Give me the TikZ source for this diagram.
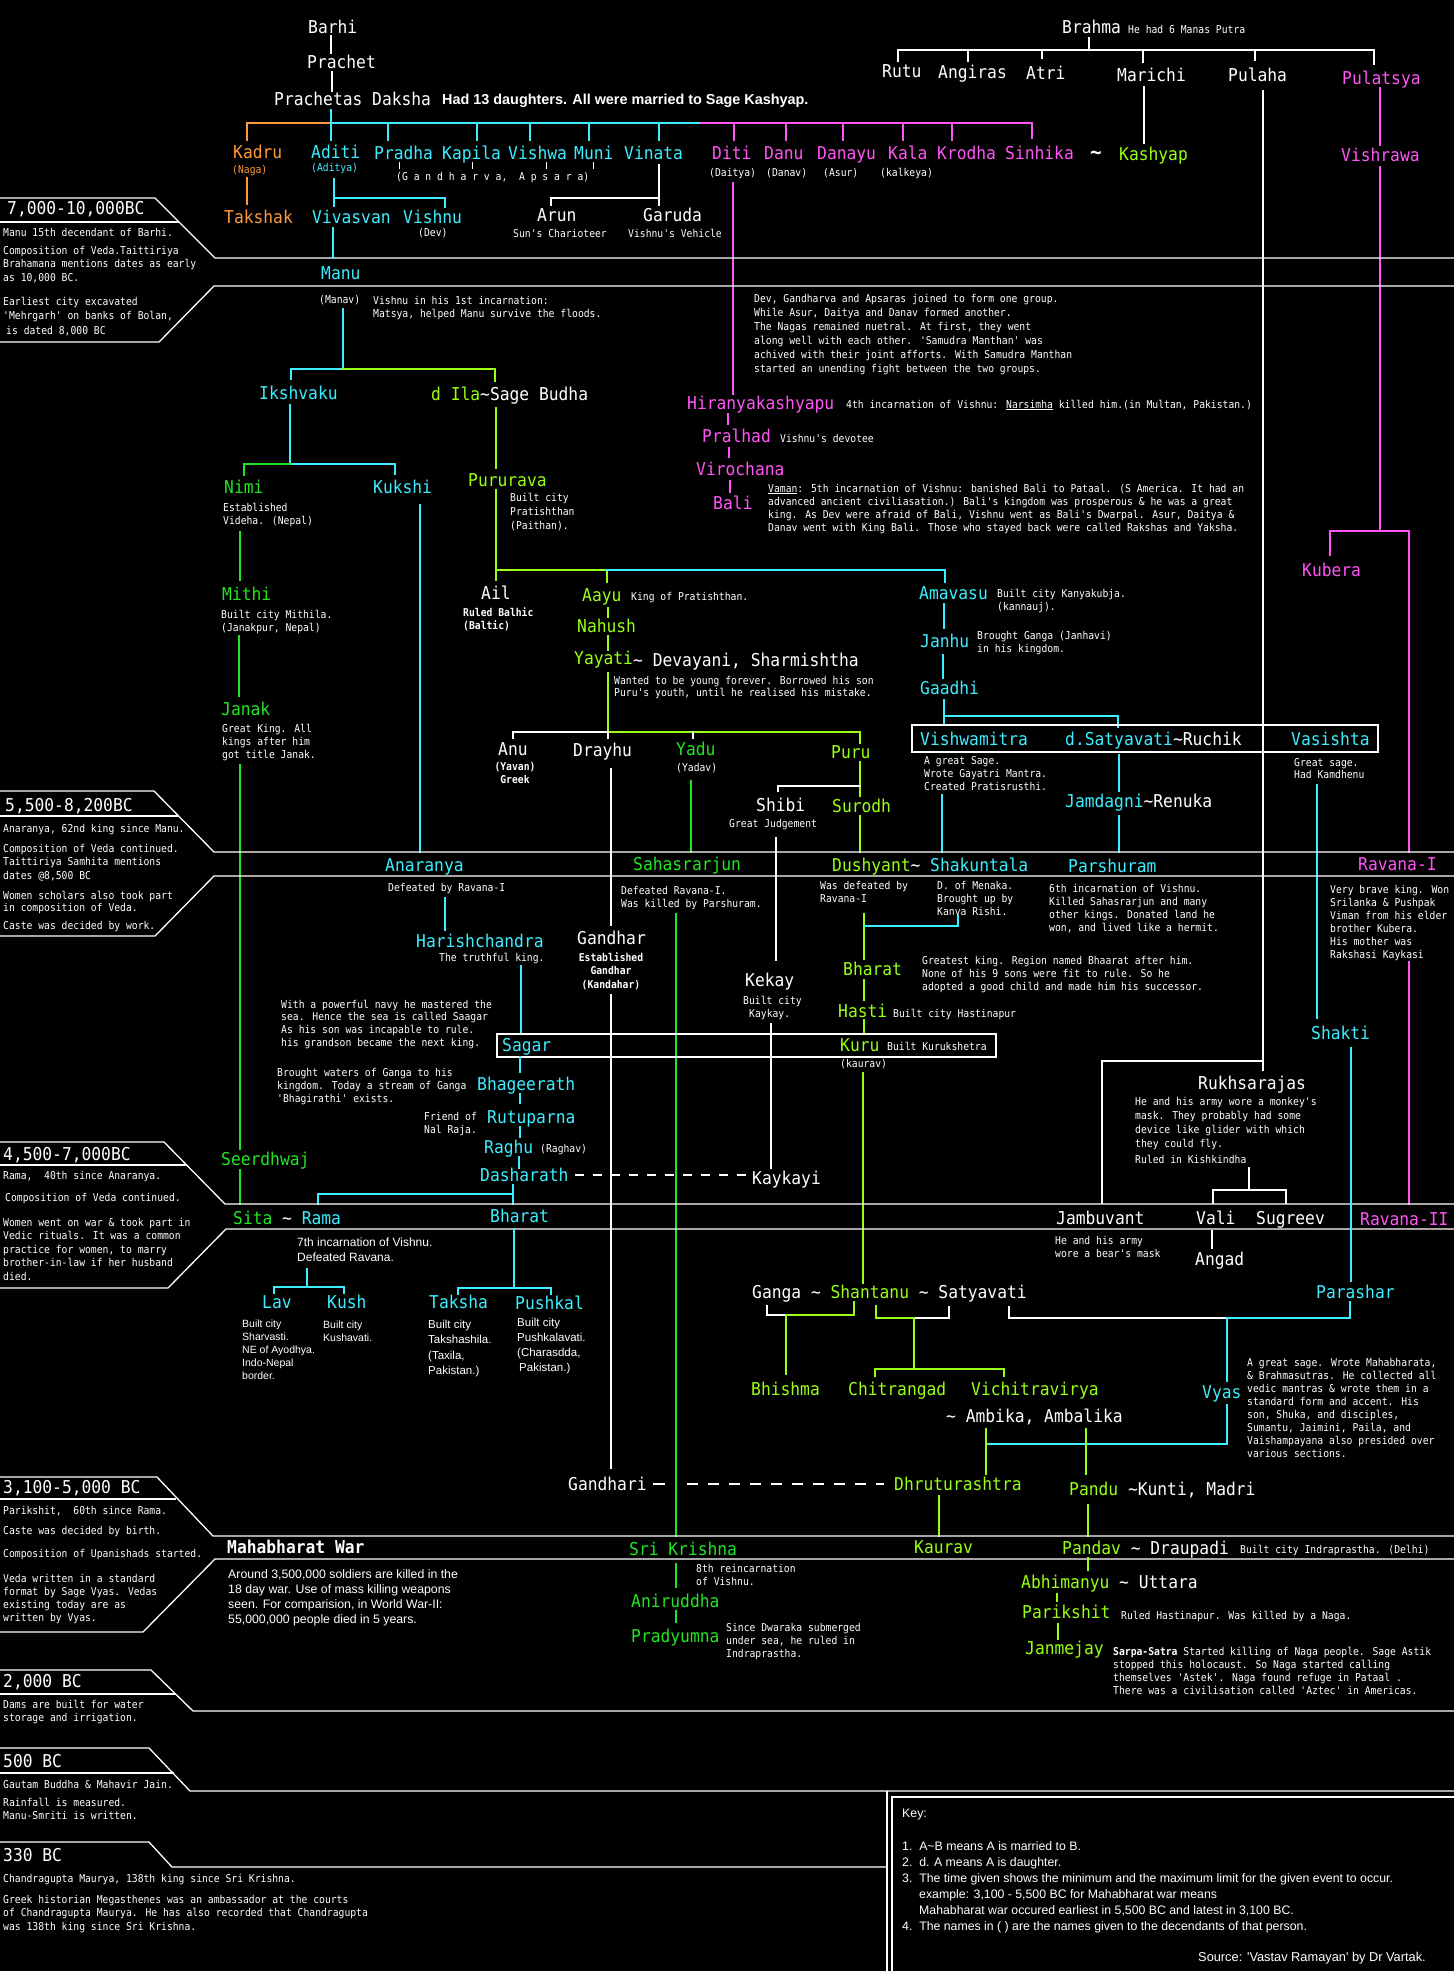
\documentclass[tikz,border=0pt]{standalone}
\usepackage{fontspec}
\newfontfamily\monof{DejaVu Sans Mono}[FakeStretch=0.92]
\newfontfamily\monos{DejaVu Sans Mono}[FakeStretch=0.9]
\newfontfamily\sansf{Liberation Sans}
\definecolor{cy}{HTML}{3CEEFF}
\definecolor{mg}{HTML}{FF55F5}
\definecolor{og}{HTML}{FF9A3A}
\definecolor{lm}{HTML}{99FF14}
\definecolor{gr}{HTML}{22E622}
\newcommand\ML[3]{{\fontsize{#1}{#2}\selectfont\begin{tabular}[t]{@{}l@{}}#3\end{tabular}}}
\newcommand\MC[3]{{\fontsize{#1}{#2}\selectfont\begin{tabular}[t]{@{}c@{}}#3\end{tabular}}}
\newcommand\sml[2]{\ML{10.8}{#1}{#2}}
\newcommand\tld{\textasciitilde}
\tikzset{
 nm/.style={font=\monof\fontsize{17.7}{19}\selectfont, text height=13pt, text depth=0pt, anchor=west, inner sep=0pt, text=white},
 sm/.style={font=\monos\fontsize{10.8}{13}\selectfont, anchor=base west, inner sep=0pt, text=white},
 smb/.style={sm, font=\monos\bfseries\fontsize{10.8}{13}\selectfont},
 ss/.style={font=\sansf\fontsize{12.3}{15}\selectfont, anchor=base west, inner sep=0pt, text=white},
 tr/.style={line width=2.3pt, line cap=rect},
 bd/.style={line width=1.3pt, draw=white},
 tk/.style={line width=1pt, draw=white},
}
\newcommand\nmnode[5]{\node[nm,text=#4] (#1) at (#2,#3) {#5};}
\newcommand\smnode[4]{\node[sm] (#1) at (#2,#3) {#4};}
\begin{document}
\begin{tikzpicture}[x=1pt,y=-1pt]
\fill[black] (0,0) rectangle (1454,1971);
\useasboundingbox (0,0) rectangle (1454,1971);

% ---------- top: Daksha ----------
\nmnode{barhi}{308}{27}{white}{Barhi}
\nmnode{prachet}{307}{62}{white}{Prachet}
\nmnode{prachetas}{274}{99}{white}{Prachetas Daksha}
\node[ss,font=\sansf\bfseries\fontsize{14.4}{16}\selectfont] (had13) at (442,104) {Had 13 daughters. All were married to Sage Kashyap.};
\draw[tr,white] (331,36)--(331,53);
\draw[tr,white] (332,72)--(332,91);
\draw[tr,cy] (331,110)--(331,140);
\draw[tr,og] (331,123)--(247,123)--(247,140);
\draw[tr,cy] (331,123)--(701,123);
\draw[tr,mg] (701,123)--(1032,123)--(1032,138);
\foreach \x in {388,477,530,589,659} \draw[tr,cy] (\x,123)--(\x,140);
\foreach \x in {734,786,843,903,952} \draw[tr,mg] (\x,123)--(\x,140);

\nmnode{kadru}{233}{152}{og}{Kadru}
\nmnode{aditi}{311}{152}{cy}{Aditi}
\nmnode{pradha}{374}{153}{cy}{Pradha}
\nmnode{kapila}{442}{153}{cy}{Kapila}
\nmnode{vishwa}{508}{153}{cy}{Vishwa}
\nmnode{muni}{574}{153}{cy}{Muni}
\nmnode{vinata}{624}{153}{cy}{Vinata}
\nmnode{diti}{712}{153}{mg}{Diti}
\nmnode{danu}{764}{153}{mg}{Danu}
\nmnode{danayu}{817}{153}{mg}{Danayu}
\nmnode{kala}{888}{153}{mg}{Kala}
\nmnode{krodha}{937}{153}{mg}{Krodha}
\nmnode{sinhika}{1005}{153}{mg}{Sinhika}
\node[nm,font=\monof\bfseries\fontsize{21}{21}\selectfont] (tilde1) at (1090,153) {\tld};
\nmnode{kashyap}{1119}{154}{lm}{Kashyap}

\node[sm,text=og] (naga) at (232,173) {(Naga)};
\node[sm,text=cy] (aditya) at (311,171) {(Aditya)};
\smnode{gandh}{396}{180}{(G a n d h a r v a,\ \ A p s a r a)}
\foreach \x in {399,472,546,593} \draw[tk] (\x,162)--(\x,169);
\smnode{daitya}{709}{176}{(Daitya)}
\smnode{danav}{766}{176}{(Danav)}
\smnode{asur}{823}{176}{(Asur)}
\smnode{kalkeya}{880}{176}{(kalkeya)}

% ---------- Brahma ----------
\nmnode{brahma}{1062}{27}{white}{Brahma}
\smnode{brahmanote}{1128}{33}{He had 6 Manas Putra}
\draw[tr,white] (1089,38)--(1089,50);
\draw[tr,white] (898,61)--(898,50)--(1374,50)--(1374,64);
\foreach \x/\y in {968/61,1042/58,1143/62,1255/60} \draw[tr,white] (\x,50)--(\x,\y);
\nmnode{rutu}{882}{71}{white}{Rutu}
\nmnode{angiras}{938}{72}{white}{Angiras}
\nmnode{atri}{1026}{73}{white}{Atri}
\nmnode{marichi}{1117}{75}{white}{Marichi}
\nmnode{pulaha}{1228}{75}{white}{Pulaha}
\nmnode{pulatsya}{1342}{78}{mg}{Pulatsya}
\draw[tr,white] (1144,87)--(1144,143);
\draw[white,line width=1.8pt] (1263,90)--(1263,1071);
\draw[white,line width=1.8pt] (1263,1061)--(1102,1061)--(1102,1204);
\draw[tr,mg] (1380,88)--(1380,145);
\nmnode{vishrawa}{1341}{155}{mg}{Vishrawa}
\draw[tr,mg] (1380,167)--(1380,531);
\draw[tr,mg] (1330,555)--(1330,531)--(1409,531)--(1409,852);
\nmnode{kubera}{1302}{570}{mg}{Kubera}
\draw[tr,mg] (1409,962)--(1409,1204);

% ---------- second generation ----------
\draw[tr,og] (247,178)--(247,204);
\nmnode{takshak}{224}{217}{og}{Takshak}
\draw[tr,cy] (334,179)--(334,206);
\draw[tr,cy] (334,198)--(445,198)--(445,207);
\nmnode{vivasvan}{312}{217}{cy}{Vivasvan}
\nmnode{vishnu}{403}{217}{cy}{Vishnu}
\smnode{dev}{418}{236}{(Dev)}
\draw[tr,white] (659,165)--(659,205);
\draw[tr,white] (659,198)--(551,198)--(551,205);
\nmnode{arun}{537}{215}{white}{Arun}
\smnode{arunnote}{513}{237}{Sun's Charioteer}
\nmnode{garuda}{643}{215}{white}{Garuda}
\smnode{garudanote}{628}{237}{Vishnu's Vehicle}
\draw[tr,mg] (733,183)--(733,394);

% ---------- band 1 ----------
\draw[bd] (0,198)--(155,198)--(215,258)--(1454,258);
\draw[bd] (0,222)--(179,222);
\draw[bd] (1454,286)--(214,286)--(159,342)--(0,342);
\nmnode{bandA}{7}{208}{white}{7,000-10,000BC}
\smnode{bandAa}{3}{236}{Manu 15th decendant of Barhi.}
\smnode{bandAb}{3}{254}{\sml{13.5}{Composition of Veda.Taittiriya\\Brahamana mentions dates as early\\as 10,000 BC.}}
\smnode{bandAc}{3}{305}{\sml{14.5}{Earliest city excavated\\'Mehrgarh' on banks of Bolan,\\\hspace*{3pt}is dated 8,000 BC}}

\nmnode{manu}{321}{273}{cy}{Manu}
\draw[tr,cy] (333,228)--(333,258);
\smnode{manav}{319}{303}{(Manav)}
\smnode{matsya}{373}{304}{\sml{13.5}{Vishnu in his 1st incarnation:\\Matsya, helped Manu survive the floods.}}
\smnode{devnote}{754}{302}{\sml{14}{Dev, Gandharva and Apsaras joined to form one group.\\While Asur, Daitya and Danav formed another.\\The Nagas remained nuetral. At first, they went\\along well with each other. 'Samudra Manthan' was\\achived with their joint afforts. With Samudra Manthan\\started an unending fight between the two groups.}}
\draw[tr,cy] (343,309)--(343,369)--(291,369)--(291,379);
\draw[tr,lm] (343,369)--(495,369)--(495,381);
\nmnode{ikshvaku}{259}{393}{cy}{Ikshvaku}
\nmnode{ila}{431}{394}{lm}{d Ila\textcolor{white}{\tld Sage Budha}}
\draw[tr,lm] (496,408)--(496,468);
\nmnode{pururava}{468}{480}{lm}{Pururava}
\draw[tr,cy] (290,405)--(290,464)--(395,464)--(395,474);
\draw[tr,gr] (290,464)--(244,464)--(244,475);
\nmnode{nimi}{224}{487}{gr}{Nimi}
\nmnode{kukshi}{373}{487}{cy}{Kukshi}
\smnode{niminote}{223}{511}{\sml{13}{Established\\Videha. (Nepal)}}
\draw[tr,gr] (240,532)--(240,580);
\nmnode{mithi}{222}{594}{gr}{Mithi}
\smnode{mithinote}{221}{618}{\sml{13.5}{Built city Mithila.\\(Janakpur, Nepal)}}
\draw[tr,gr] (239,636)--(239,696);
\nmnode{janak}{221}{709}{gr}{Janak}
\smnode{janaknote}{222}{732}{\sml{13}{Great King. All\\kings after him\\got title Janak.}}
\draw[tr,gr] (240,765)--(240,1149);
\nmnode{seerdhwaj}{221}{1159}{gr}{Seerdhwaj}
\draw[tr,gr] (240,1170)--(240,1204);
\draw[tr,cy] (420,505)--(420,852);

% ---------- Hiranyakashyapu ----------
\nmnode{hiranya}{687}{403}{mg}{Hiranyakashyapu}
\smnode{hiranyanote}{846}{408}{4th incarnation of Vishnu: \underline{Narsimha} killed him.(in Multan, Pakistan.)}
\draw[tr,mg] (728,414)--(728,424);
\nmnode{pralhad}{702}{436}{mg}{Pralhad}
\smnode{pralhadnote}{780}{442}{Vishnu's devotee}
\draw[tr,mg] (729,448)--(729,457);
\nmnode{virochana}{696}{469}{mg}{Virochana}
\draw[tr,mg] (730,481)--(730,492);
\nmnode{bali}{713}{503}{mg}{Bali}
\smnode{vamannote}{768}{492}{\sml{13}{\underline{Vaman}: 5th incarnation of Vishnu: banished Bali to Pataal. (S America. It had an\\advanced ancient civiliasation.) Bali's kingdom was prosperous \& he was a great\\king. As Dev were afraid of Bali, Vishnu went as Bali's Dwarpal. Asur, Daitya \&\\Danav went with King Bali. Those who stayed back were called Rakshas and Yaksha.}}

% ---------- Pururava line ----------
\smnode{pururavanote}{510}{501}{\sml{14}{Built city\\Pratishthan\\(Paithan).}}
\draw[tr,lm] (496,490)--(496,580);
\draw[tr,lm] (496,570)--(607,570)--(607,582);
\draw[tr,cy] (607,570)--(945,570)--(945,582);
\nmnode{ail}{481}{593}{white}{Ail}
\node[smb] (ailnote) at (463,616) {\sml{13}{Ruled Balhic\\(Baltic)}};
\nmnode{aayu}{582}{595}{lm}{Aayu}
\smnode{aayunote}{631}{600}{King of Pratishthan.}
\draw[tr,lm] (608,608)--(608,617);
\nmnode{nahush}{577}{626}{lm}{Nahush}
\draw[tr,lm] (608,636)--(608,650);
\nmnode{yayati}{574}{658}{lm}{Yayati}
\nmnode{devayani}{633}{660}{white}{\tld{} Devayani, Sharmishtha}
\smnode{yayatinote}{614}{684}{\sml{12}{Wanted to be young forever. Borrowed his son\\Puru's youth, until he realised his mistake.}}
\draw[tr,lm] (608,673)--(608,732)--(860,732)--(860,743);
\draw[tr,white] (608,732)--(513,732)--(513,738);
\draw[tr,white] (608,732)--(608,738);
\draw[tr,white] (693,732)--(693,738);
\nmnode{anu}{498}{749}{white}{Anu}
\node[smb,anchor=base] (anunote) at (515,770) {\MC{10.8}{13}{(Yavan)\\Greek}};
\nmnode{drayhu}{573}{750}{white}{Drayhu}
\nmnode{yadu}{676}{749}{gr}{Yadu}
\smnode{yadav}{676}{771}{(Yadav)}
\nmnode{puru}{831}{752}{lm}{Puru}
\draw[tr,white] (611,769)--(611,925);
\draw[tr,gr] (691,781)--(691,852);
\draw[tr,lm] (860,762)--(860,796);
\draw[tr,white] (860,786)--(778,786)--(778,791);
\nmnode{shibi}{756}{805}{white}{Shibi}
\smnode{shibinote}{729}{827}{Great Judgement}
\nmnode{surodh}{832}{806}{lm}{Surodh}
\draw[tr,lm] (860,816)--(860,852);
\draw[tr,white] (776,838)--(776,960);

% ---------- Amavasu line ----------
\nmnode{amavasu}{919}{593}{cy}{Amavasu}
\smnode{amavasunote}{997}{597}{\sml{13}{Built city Kanyakubja.\\(kannauj).}}
\draw[tr,cy] (944,604)--(944,628);
\nmnode{janhu}{920}{641}{cy}{Janhu}
\smnode{janhunote}{977}{639}{\sml{13}{Brought Ganga (Janhavi)\\in his kingdom.}}
\draw[tr,cy] (943,655)--(943,678);
\nmnode{gaadhi}{920}{688}{cy}{Gaadhi}
\draw[tr,cy] (944,700)--(944,725);
\draw[tr,cy] (944,716)--(1118,716)--(1118,727);
\draw[bd] (912,725) rectangle (1378,752);
\nmnode{vishwamitra}{920}{739}{cy}{Vishwamitra}
\nmnode{satyavatiA}{1065}{739}{cy}{d.Satyavati\textcolor{white}{\tld Ruchik}}
\nmnode{vasishta}{1291}{739}{cy}{Vasishta}
\smnode{vishwamitranote}{924}{764}{\sml{13}{A great Sage.\\Wrote Gayatri Mantra.\\Created Pratisrusthi.}}
\draw[tr,cy] (942,795)--(942,852);
\draw[tr,cy] (1119,755)--(1119,791);
\nmnode{jamdagni}{1065}{801}{cy}{Jamdagni\textcolor{white}{\tld Renuka}}
\draw[tr,cy] (1119,816)--(1119,852);
\smnode{vasishtanote}{1294}{766}{\sml{12}{Great sage.\\Had Kamdhenu}}
\draw[tr,cy] (1317,785)--(1317,1018);

% ---------- band 2 ----------
\draw[bd] (0,791)--(154,791)--(214,852)--(1454,852);
\draw[bd] (0,816)--(178,816);
\draw[bd] (1454,876)--(214,876)--(155,936)--(0,936);
\nmnode{bandB}{5}{805}{white}{5,500-8,200BC}
\smnode{bandBa}{3}{832}{Anaranya, 62nd king since Manu.}
\smnode{bandBb}{3}{852}{\sml{13.5}{Composition of Veda continued.\\Taittiriya Samhita mentions\\dates @8,500 BC}}
\smnode{bandBc}{3}{899}{\sml{12}{Women scholars also took part\\in composition of Veda.}}
\smnode{bandBd}{3}{929}{Caste was decided by work.}

\nmnode{anaranya}{385}{865}{cy}{Anaranya}
\smnode{anaranyanote}{388}{891}{Defeated by Ravana-I}
\draw[tr,cy] (445,898)--(445,930);
\nmnode{harish}{416}{941}{cy}{Harishchandra}
\smnode{harishnote}{439}{961}{The truthful king.}
\draw[tr,cy] (521,966)--(521,1034);
\nmnode{sahasrarjun}{633}{864}{gr}{Sahasrarjun}
\smnode{sahasranote}{621}{894}{\sml{13}{Defeated Ravana-I.\\Was killed by Parshuram.}}
\draw[tr,gr] (676,914)--(676,1536);
\nmnode{dushyant}{832}{865}{lm}{Dushyant\textcolor{white}{\tld} \textcolor{cy}{Shakuntala}}
\smnode{dushyantnote}{820}{889}{\sml{13}{Was defeated by\\Ravana-I}}
\smnode{shakuntalanote}{937}{889}{\sml{13}{D. of Menaka.\\Brought up by\\Kanva Rishi.}}
\draw[tr,lm] (864,914)--(864,959);
\draw[tr,cy] (864,926)--(958,926)--(958,916);
\nmnode{parshuram}{1068}{866}{cy}{Parshuram}
\smnode{parshuramnote}{1049}{892}{\sml{13}{6th incarnation of Vishnu.\\Killed Sahasrarjun and many\\other kings. Donated land he\\won, and lived like a hermit.}}
\nmnode{ravanaA}{1358}{864}{mg}{Ravana-I}
\smnode{ravanaAnote}{1330}{893}{\sml{13}{Very brave king. Won\\Srilanka \& Pushpak\\Viman from his elder\\brother Kubera.\\His mother was\\Rakshasi Kaykasi}}

\nmnode{bharatA}{843}{969}{lm}{Bharat}
\smnode{bharatAnote}{922}{964}{\sml{13}{Greatest king. Region named Bhaarat after him.\\None of his 9 sons were fit to rule. So he\\adopted a good child and made him his successor.}}
\draw[tr,lm] (864,980)--(864,1000);
\nmnode{hasti}{838}{1011}{lm}{Hasti}
\smnode{hastinote}{893}{1017}{Built city Hastinapur}
\draw[tr,lm] (864,1020)--(864,1034);
\nmnode{gandhar}{577}{938}{white}{Gandhar}
\node[smb,anchor=base] (gandharnote) at (611,961) {\MC{10.8}{13.5}{Established\\Gandhar\\(Kandahar)}};
\draw[tr,white] (611,995)--(611,1468);
\nmnode{kekay}{745}{980}{white}{Kekay}
\smnode{kekaynote}{743}{1004}{\sml{13}{Built city\\\hspace*{6pt}Kaykay.}}
\draw[tr,white] (771,1024)--(771,1168);
\nmnode{kaykayi}{752}{1178}{white}{Kaykayi}

\draw[bd] (497,1034) rectangle (996,1057);
\nmnode{sagar}{502}{1045}{cy}{Sagar}
\nmnode{kuru}{840}{1045}{lm}{Kuru}
\smnode{kurunote}{887}{1050}{Built Kurukshetra}
\smnode{kauravA}{840}{1067}{(kaurav)}
\draw[tr,lm] (863,1073)--(863,1283);
\smnode{sagarnote}{281}{1008}{\sml{12.7}{With a powerful navy he mastered the\\sea. Hence the sea is called Saagar\\As his son was incapable to rule.\\his grandson became the next king.}}
\draw[tr,cy] (520,1057)--(520,1072);
\nmnode{bhageerath}{477}{1084}{cy}{Bhageerath}
\smnode{bhagnote}{277}{1076}{\sml{13}{Brought waters of Ganga to his\\kingdom. Today a stream of Ganga\\'Bhagirathi' exists.}}
\draw[tr,cy] (520,1094)--(520,1103);
\nmnode{rutuparna}{487}{1117}{cy}{Rutuparna}
\smnode{rutunote}{424}{1120}{\sml{13}{Friend of\\Nal Raja.}}
\draw[tr,cy] (520,1127)--(520,1137);
\nmnode{raghu}{484}{1147}{cy}{Raghu}
\smnode{raghav}{540}{1152}{(Raghav)}
\draw[tr,cy] (519,1157)--(519,1168);
\nmnode{dasharath}{480}{1175}{cy}{Dasharath}
\draw[white,line width=1.3pt,dash pattern=on 9pt off 9pt] ([xshift=6pt]dasharath.east) -- ([xshift=-4pt]kaykayi.west |- dasharath.east);
\draw[tr,cy] (513,1185)--(513,1204);
\draw[tr,cy] (513,1194)--(318,1194)--(318,1204);

% ---------- band 3 ----------
\draw[bd] (0,1142)--(164,1142)--(225,1204)--(1454,1204);
\draw[bd] (0,1165)--(186,1165);
\draw[bd] (1454,1229)--(226,1229)--(168,1288)--(0,1288);
\nmnode{bandC}{3}{1154}{white}{4,500-7,000BC}
\smnode{bandCa}{3}{1179}{Rama,\ \ 40th since Anaranya.}
\smnode{bandCb}{5}{1201}{Composition of Veda continued.}
\smnode{bandCc}{3}{1226}{\sml{13.5}{Women went on war \& took part in\\Vedic rituals. It was a common\\practice for women, to marry\\brother-in-law if her husband\\died.}}
\nmnode{sitarama}{233}{1218}{gr}{Sita \textcolor{white}{\tld} \textcolor{cy}{Rama}}
\nmnode{bharatB}{490}{1216}{cy}{Bharat}
\node[ss] (ramanote) at (297,1246) {\ML{12}{15}{7th incarnation of Vishnu.\\Defeated Ravana.}};
\draw[tr,cy] (307,1269)--(307,1287);
\draw[tr,cy] (274,1293)--(274,1287)--(344,1287)--(344,1293);
\nmnode{lav}{262}{1302}{cy}{Lav}
\nmnode{kush}{327}{1302}{cy}{Kush}
\node[ss] (lavnote) at (242,1327) {\ML{10.5}{13}{Built city\\Sharvasti.\\NE of Ayodhya.\\Indo-Nepal\\border.}};
\node[ss] (kushnote) at (323,1328) {\ML{10.5}{13}{Built city\\Kushavati.}};
\draw[tr,cy] (514,1229)--(514,1288);
\draw[tr,cy] (458,1294)--(458,1288)--(551,1288)--(551,1294);
\nmnode{taksha}{429}{1302}{cy}{Taksha}
\nmnode{pushkal}{515}{1303}{cy}{Pushkal}
\node[ss] (takshanote) at (428,1328) {\ML{11.5}{15.5}{Built city\\Takshashila.\\(Taxila,\\Pakistan.)}};
\node[ss] (pushkalnote) at (517,1326) {\ML{11.5}{15}{Built city\\Pushkalavati.\\(Charasdda,\\\hspace*{2pt}Pakistan.)}};

% ---------- right middle ----------
\nmnode{shakti}{1311}{1033}{cy}{Shakti}
\draw[tr,cy] (1351,1048)--(1351,1281);
\nmnode{rukh}{1198}{1083}{white}{Rukhsarajas}
\smnode{rukhnote}{1135}{1105}{\sml{14}{He and his army wore a monkey's\\mask. They probably had some\\device like glider with which\\they could fly.}}
\smnode{rukhnoteB}{1135}{1163}{Ruled in Kishkindha}
\draw[tr,white] (1249,1168)--(1249,1190);
\draw[tr,white] (1213,1203)--(1213,1190)--(1286,1190)--(1286,1203);
\nmnode{jambuvant}{1056}{1218}{white}{Jambuvant}
\nmnode{vali}{1196}{1218}{white}{Vali}
\nmnode{sugreev}{1256}{1218}{white}{Sugreev}
\nmnode{ravanaB}{1360}{1219}{mg}{Ravana-II}
\smnode{jambnote}{1055}{1244}{\sml{13}{He and his army\\wore a bear's mask}}
\draw[tr,white] (1212,1231)--(1212,1248);
\nmnode{angad}{1195}{1259}{white}{Angad}

% ---------- Shantanu ----------
\nmnode{shantanu}{752}{1292}{white}{Ganga \tld{} \textcolor{lm}{Shantanu} \tld{} Satyavati}
\draw[tr,white] (767,1306)--(767,1315)--(786,1315);
\draw[tr,lm] (786,1315)--(854,1315)--(854,1302);
\draw[tr,lm] (786,1315)--(786,1374);
\nmnode{bhishma}{751}{1389}{lm}{Bhishma}
\draw[tr,lm] (876,1306)--(876,1318)--(914,1318);
\draw[tr,white] (914,1318)--(949,1318)--(949,1307);
\draw[tr,lm] (914,1318)--(914,1369);
\draw[tr,lm] (875,1376)--(875,1369)--(1004,1369)--(1004,1376);
\nmnode{chitrangad}{848}{1389}{lm}{Chitrangad}
\nmnode{vichitra}{971}{1389}{lm}{Vichitravirya}
\nmnode{ambika}{946}{1416}{white}{\tld{} Ambika, Ambalika}
\nmnode{parashar}{1316}{1292}{cy}{Parashar}
\draw[tr,white] (1009,1307)--(1009,1318)--(1227,1318);
\draw[tr,cy] (1227,1318)--(1350,1318)--(1350,1302);
\draw[tr,cy] (1227,1318)--(1227,1381);
\nmnode{vyas}{1202}{1392}{cy}{Vyas}
\smnode{vyasnote}{1247}{1366}{\sml{13}{A great sage. Wrote Mahabharata,\\\& Brahmasutras. He collected all\\vedic mantras \& wrote them in a\\standard form and accent. His\\son, Shuka, and disciples,\\Sumantu, Jaimini, Paila, and\\Vaishampayana also presided over\\various sections.}}
\draw[tr,cy] (1227,1405)--(1227,1444)--(986,1444);
\draw[tr,lm] (986,1429)--(986,1474);
\draw[tr,lm] (1086,1429)--(1086,1474);

\nmnode{gandhari}{568}{1484}{white}{Gandhari}
\draw[white,line width=1.3pt] (653,1484)--(665,1484);
\draw[white,line width=1.3pt,dash pattern=on 11pt off 10pt] (687,1484)--(884,1484);
\nmnode{dhrut}{894}{1484}{lm}{Dhruturashtra}
\draw[tr,lm] (939,1496)--(939,1536);
\nmnode{pandu}{1069}{1489}{lm}{Pandu \textcolor{white}{\tld Kunti, Madri}}
\draw[tr,lm] (1088,1505)--(1088,1536);

% ---------- band 4 ----------
\draw[bd] (0,1477)--(157,1477)--(213,1536)--(1454,1536);
\draw[bd] (0,1499)--(176,1499);
\draw[bd] (1454,1559)--(215,1559)--(143,1632)--(0,1632);
\nmnode{bandD}{3}{1487}{white}{3,100-5,000 BC}
\smnode{bandDa}{3}{1514}{Parikshit,\ \ 60th since Rama.}
\smnode{bandDb}{3}{1534}{Caste was decided by birth.}
\smnode{bandDc}{3}{1557}{Composition of Upanishads started.}
\smnode{bandDd}{3}{1582}{\sml{13.3}{Veda written in a standard\\format by Sage Vyas. Vedas\\existing today are as\\written by Vyas.}}
\node[nm,font=\monof\bfseries\fontsize{17.7}{19}\selectfont] (mbwar) at (227,1547) {Mahabharat War};
\node[ss] (warnote) at (228,1578) {\ML{12.3}{15}{Around 3,500,000 soldiers are killed in the\\18 day war. Use of mass killing weapons\\seen. For comparision, in World War-II:\\55,000,000 people died in 5 years.}};
\nmnode{krishna}{629}{1549}{gr}{Sri Krishna}
\nmnode{kaurav}{914}{1547}{lm}{Kaurav}
\nmnode{pandav}{1062}{1548}{lm}{Pandav \textcolor{white}{\tld{} Draupadi}}
\smnode{pandavnote}{1240}{1553}{Built city Indraprastha. (Delhi)}
\smnode{krishnanote}{696}{1572}{\sml{13}{8th reincarnation\\of Vishnu.}}
\draw[tr,gr] (676,1564)--(676,1587);
\nmnode{aniruddha}{631}{1601}{gr}{Aniruddha}
\draw[tr,gr] (676,1611)--(676,1622);
\nmnode{pradyumna}{631}{1636}{gr}{Pradyumna}
\smnode{pradnote}{726}{1631}{\sml{13}{Since Dwaraka submerged\\under sea, he ruled in\\Indraprastha.}}
\draw[tr,lm] (1088,1558)--(1088,1570);
\nmnode{abhimanyu}{1021}{1582}{lm}{Abhimanyu \textcolor{white}{\tld{} Uttara}}
\draw[tr,lm] (1057,1594)--(1057,1601);
\nmnode{parikshit}{1022}{1612}{lm}{Parikshit}
\smnode{parinote}{1121}{1619}{Ruled Hastinapur. Was killed by a Naga.}
\draw[tr,lm] (1058,1624)--(1058,1639);
\nmnode{janmejay}{1025}{1648}{lm}{Janmejay}
\smnode{sarpanote}{1113}{1655}{\sml{13.3}{\textbf{Sarpa-Satra} Started killing of Naga people. Sage Astik\\stopped this holocaust. So Naga started calling\\themselves 'Astek'. Naga found refuge in Pataal .\\There was a civilisation called 'Aztec' in Americas.}}

% ---------- band 5-7 ----------
\draw[bd] (0,1670)--(151,1670)--(193,1711)--(1454,1711);
\draw[bd] (0,1694)--(176,1694);
\nmnode{bandE}{3}{1681}{white}{2,000 BC}
\smnode{bandEa}{3}{1708}{\sml{13}{Dams are built for water\\storage and irrigation.}}

\draw[bd] (0,1748)--(149,1748)--(190,1791)--(1454,1791);
\draw[bd] (0,1773)--(174,1773);
\nmnode{bandF}{3}{1761}{white}{500 BC}
\smnode{bandFa}{3}{1788}{Gautam Buddha \& Mahavir Jain.}
\smnode{bandFb}{3}{1806}{\sml{13}{Rainfall is measured.\\Manu-Smriti is written.}}
\draw[bd] (887,1791)--(887,1971);
\draw[bd] (892,1971)--(892,1797)--(1454,1797);

\draw[bd] (0,1842)--(149,1842)--(172,1867)--(887,1867);
\nmnode{bandG}{3}{1855}{white}{330 BC}
\smnode{bandGa}{3}{1882}{Chandragupta Maurya, 138th king since Sri Krishna.}
\smnode{bandGb}{3}{1903}{\sml{13.5}{Greek historian Megasthenes was an ambassador at the courts\\of Chandragupta Maurya. He has also recorded that Chandragupta\\was 138th king since Sri Krishna.}}

% ---------- key ----------
\node[ss] (keytitle) at (902,1817) {Key:};
\node[ss] (keybody) at (902,1850) {\ML{12.3}{16}{1.\ \ A\tld B means A is married to B.\\2.\ \ d. A means A is daughter.\\3.\ \ The time given shows the minimum and the maximum limit for the given event to occur.\\\hspace*{17pt}example: 3,100 - 5,500 BC for Mahabharat war means\\\hspace*{17pt}Mahabharat war occured earliest in 5,500 BC and latest in 3,100 BC.\\4.\ \ The names in ( ) are the names given to the decendants of that person.}};
\node[ss,font=\sansf\fontsize{12.8}{15}\selectfont] (source) at (1198,1961) {Source: 'Vastav Ramayan' by Dr Vartak.};
\end{tikzpicture}
\end{document}
